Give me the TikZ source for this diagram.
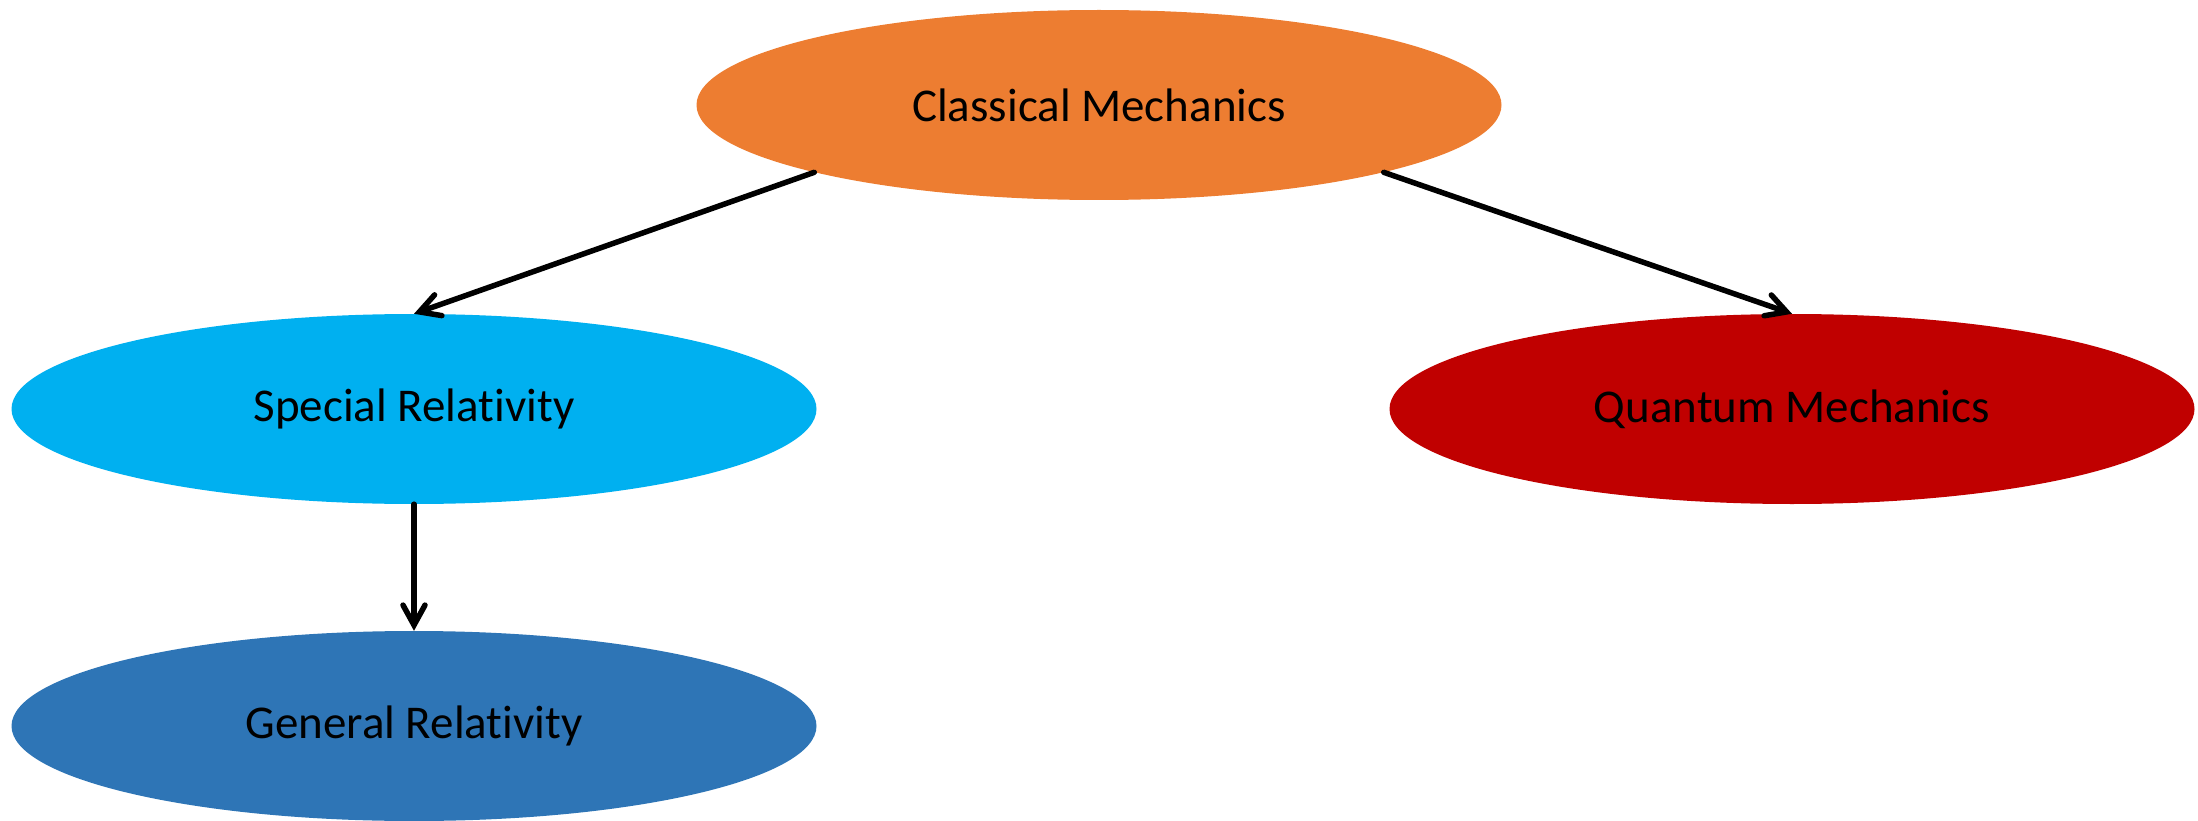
\documentclass[tikz,border=0pt]{standalone}
\usepackage{fontspec}
\setmainfont{Carlito}[Ligatures=NoCommon]
\usetikzlibrary{arrows.meta,shapes.geometric}
\definecolor{cmorange}{HTML}{ED7D31}
\definecolor{srcyan}{HTML}{00B0F0}
\definecolor{qmred}{HTML}{C00000}
\definecolor{grblue}{HTML}{2E75B6}
\begin{document}
\begin{tikzpicture}[x=1pt,y=-1pt,
  topic/.style={ellipse, draw=none, minimum width=805pt, minimum height=190pt,
    inner sep=0pt, font=\fontsize{47}{56}\selectfont, text=black},
  link/.style={line width=5.5pt, line cap=round,
    -{Straight Barb[length=20pt,width=22pt,line cap=round]}}]
  \useasboundingbox (0,0) rectangle (2198,821);
  \node[topic, fill=cmorange] (cm) at (1099,105) {Classical Mechanics};
  \node[topic, fill=srcyan]   (sr) at (414,409)  {Special Relativity};
  \node[topic, fill=qmred]    (qm) at (1792,409) {Quantum Mechanics};
  \node[topic, fill=grblue]   (gr) at (414,726)  {General Relativity};
  \draw[link] (cm.south west) -- (sr.north);
  \draw[link] (cm.south east) -- (qm.north);
  \draw[link] (sr.south) -- (gr.north);
\end{tikzpicture}
\end{document}
